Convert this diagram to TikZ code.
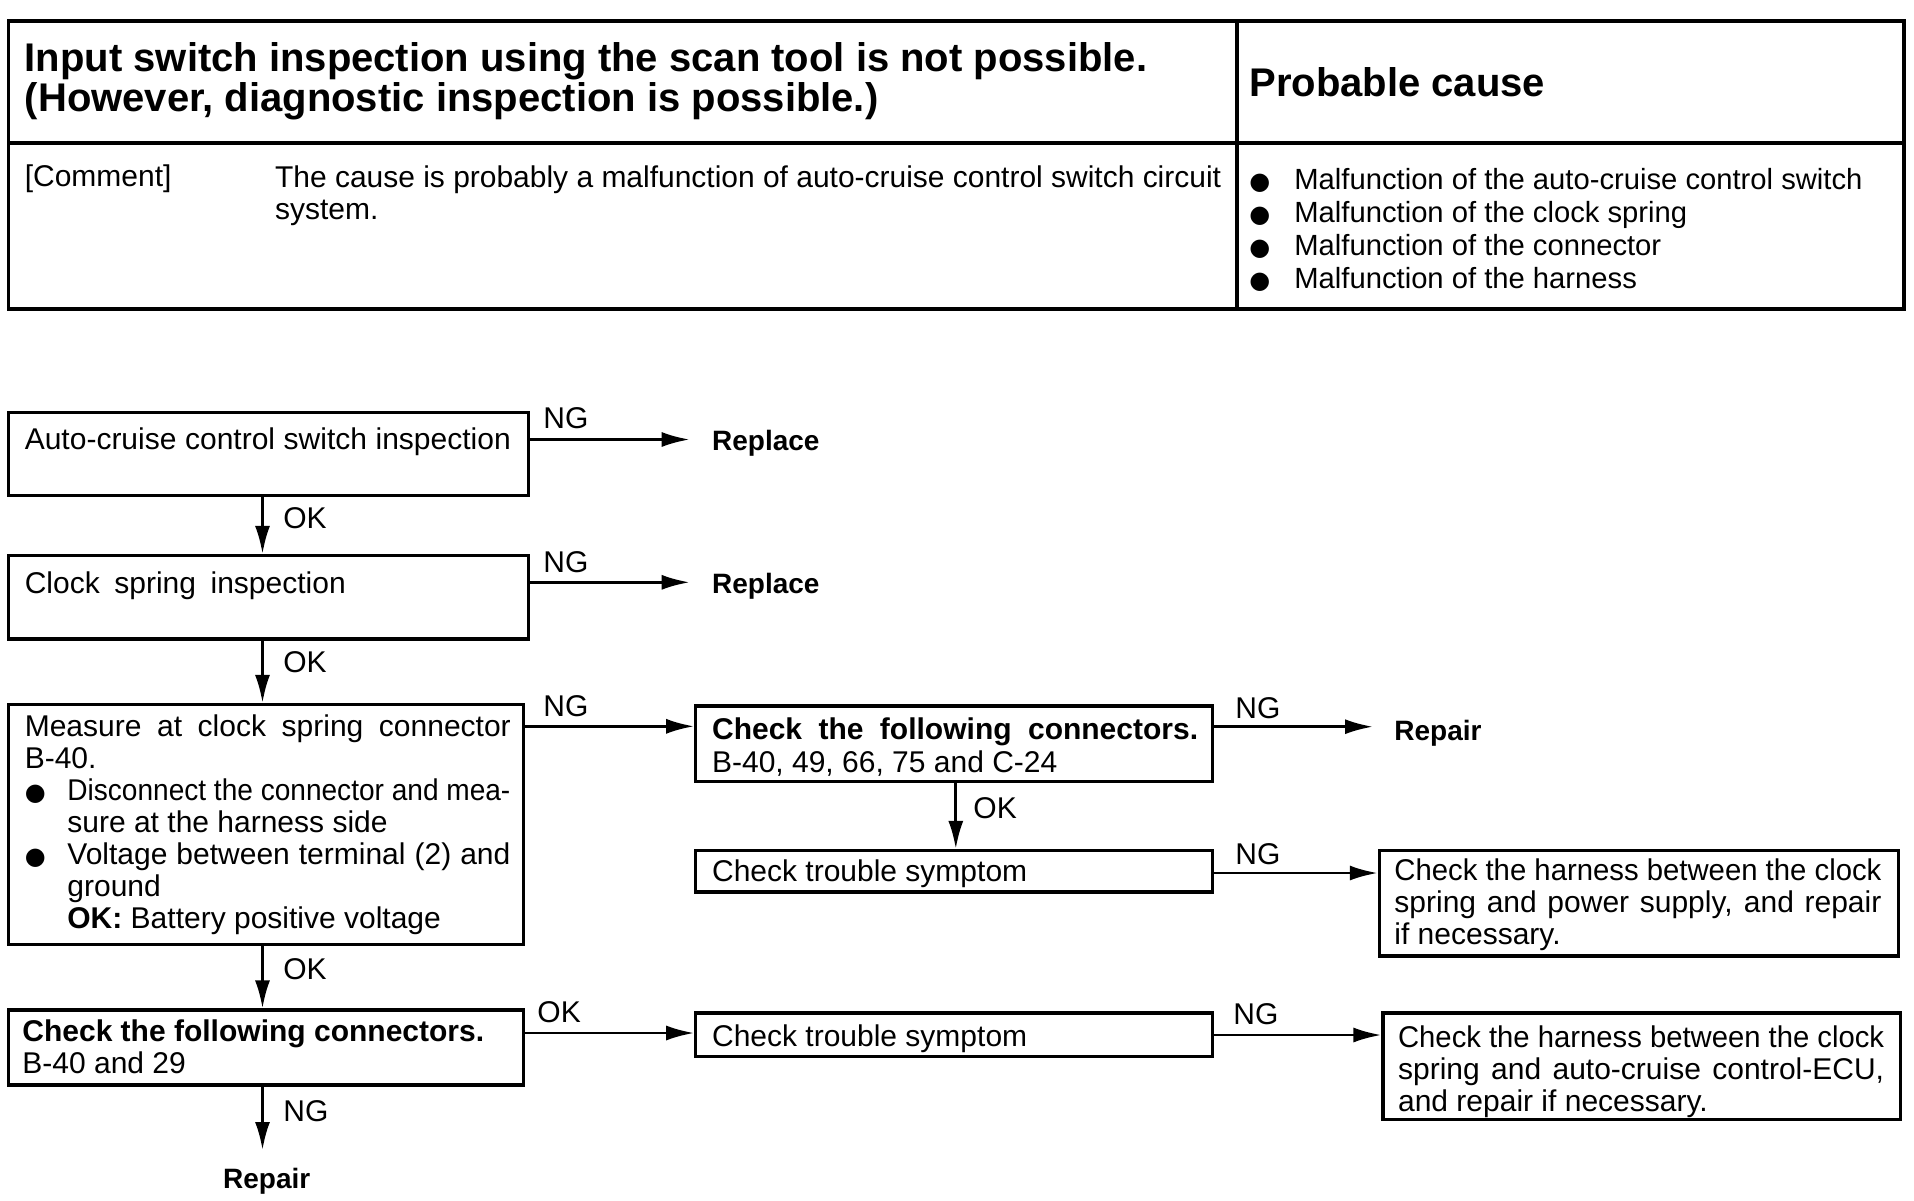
\documentclass[tikz,border=0pt]{standalone}
\usepackage{fontspec}
\setmainfont{Liberation Sans}
\newfontfamily\symfont{DejaVu Sans}
\usepackage{graphicx}
\usetikzlibrary{arrows.meta,fit}
\newlength{\fitlen}
\newcommand{\fitline}[2]{\settowidth{\fitlen}{#2}\ifdim\fitlen>#1\relax\resizebox{#1}{\height}{#2}\else\makebox[#1][s]{#2}\fi}
\newcommand{\bul}{\raisebox{0pt}{\symfont\fontsize{12}{12}\selectfont ●}}
\newcommand{\bodyfont}{\fontsize{15}{16}\selectfont}
\newcommand{\hdrfont}{\fontsize{20}{20}\selectfont\bfseries}
\newcommand{\termfont}{\fontsize{14}{16}\selectfont\bfseries}
\begin{document}
\begin{tikzpicture}[x=0.5pt,y=-0.5pt,
  tbl/.style={line width=1.9pt},
  box/.style={draw, line width=1.6pt, inner sep=0pt},
  flow/.style={-{Latex[length=14pt,width=7.5pt]}, line width=1.4pt},
  txt/.style={inner sep=0pt, anchor=base west, font=\bodyfont},
  lbl/.style={inner sep=0pt, anchor=base west, font=\bodyfont},
  termtxt/.style={inner sep=0pt, anchor=base west, font=\termfont}]
\useasboundingbox (0,0) rectangle (1914,1200);
% ---------- table ----------
\draw[tbl] (8.5,21) rectangle (1904,309);
\draw[tbl] (1237,21) -- (1237,309);
\draw[tbl] (8.5,143) -- (1904,143);
\node[txt, font=\hdrfont] (hdr) at (24.4,71.4) {\parbox[t]{600pt}{Input switch inspection using the scan tool is not possible.\\(However, diagnostic inspection is possible.)}};
\node[txt, font=\hdrfont] (pc) at (1249,96) {Probable cause};
\node[txt] (cmt) at (24.4,186) {[Comment]};
\node[txt] (cmtx) at (274.7,187) {\parbox[t]{473pt}{\fitline{473pt}{The cause is probably a malfunction of auto-cruise control switch circuit}\\system.}};
\node[txt, font=\fontsize{14.6}{16.5}\selectfont] (causes) at (1249,189.4) {\parbox[t]{320pt}{%
\makebox[22.5pt][l]{\bul}Malfunction of the auto-cruise control switch\\
\makebox[22.5pt][l]{\bul}Malfunction of the clock spring\\
\makebox[22.5pt][l]{\bul}Malfunction of the connector\\
\makebox[22.5pt][l]{\bul}Malfunction of the harness}};
% ---------- flow ----------
\coordinate (cx) at (262.5,0);
\coordinate (cxD) at (955.8,0);
% A
\node[box, fit={(8.5,412.6)(528.6,495.6)}] (A) {};
\node[txt] (tA) at (24.4,449.5) {\fitline{243pt}{Auto-cruise control switch inspection}};
\coordinate (rA) at (689.7,439.5);
\draw[flow] (A.east |- rA) -- (rA);
\node[lbl] (ngA) at (543,428.7) {NG};
\node[termtxt] (repA) at (711.7,450.7) {Replace};
% B
\node[box, fit={(8.5,555.5)(528.6,639)}] (B) {};
\draw[flow] (A.south -| cx) -- (B.north -| cx);
\node[lbl] (okA) at (283,528.8) {OK};
\node[txt] (tB) at (24.4,593.3) {\fitline{160.5pt}{Clock spring inspection}};
\coordinate (rB) at (689.7,582.3);
\draw[flow] (B.east |- rB) -- (rB);
\node[lbl] (ngB) at (543,572.7) {NG};
\node[termtxt] (repB) at (711.7,593) {Replace};
% C
\node[box, fit={(8.5,704.5)(523.7,944.5)}] (C) {};
\draw[flow] (B.south -| cx) -- (C.north -| cx);
\node[lbl] (okB) at (283,672.8) {OK};
\node[txt] (tC) at (24.4,736.7) {\parbox[t]{243pt}{%
\fitline{243pt}{Measure at clock spring connector}\\
B-40.\\
\makebox[21.3pt][l]{\bul}\fitline{221.5pt}{Disconnect the connector and mea-}\\
\hspace*{21.3pt}sure at the harness side\\
\makebox[21.3pt][l]{\bul}\fitline{221.5pt}{Voltage between terminal (2) and}\\
\hspace*{21.3pt}ground\\
\hspace*{21.3pt}\textbf{OK:} Battery positive voltage}};
% D
\node[box, fit={(695.8,706)(1212.2,781.5)}] (D) {};
\coordinate (yCD) at (0,726.3);
\draw[flow] (C.east |- yCD) -- (D.west |- yCD);
\node[lbl] (ngC) at (543,716.8) {NG};
\node[txt] (tD) at (711.7,739) {\parbox[t]{243pt}{\fitline{243pt}{\bfseries Check the following connectors.}\\[0.5pt]B-40, 49, 66, 75 and C-24}};
\coordinate (rD) at (1373,726.7);
\draw[flow] (D.east |- rD) -- (rD);
\node[lbl] (ngD) at (1235,718) {NG};
\node[termtxt] (repD) at (1394,740) {Repair};
% E
\node[box, fit={(695.8,850.5)(1212.2,892)}] (E) {};
\draw[flow] (D.south -| cxD) -- (E.north -| cxD);
\node[lbl] (okD) at (973,818) {OK};
\node[txt] (tE) at (711.7,881.6) {Check trouble symptom};
% F
\node[box, fit={(1379.4,850.5)(1898.2,956)}] (F) {};
\coordinate (yEF) at (0,873);
\draw[flow] (E.east |- yEF) -- (F.west |- yEF);
\node[lbl] (ngE) at (1235,864.5) {NG};
\node[txt] (tF) at (1394,880) {\parbox[t]{243.5pt}{%
\fitline{243.5pt}{Check the harness between the clock}\\
\fitline{243.5pt}{spring and power supply, and repair}\\
if necessary.}};
% G
\node[box, fit={(8.5,1010)(523.7,1085)}] (G) {};
\draw[flow] (C.south -| cx) -- (G.north -| cx);
\node[lbl] (okC) at (283,979) {OK};
\node[txt] (tG) at (22,1041.5) {\parbox[t]{243pt}{\textbf{Check the following connectors.}\\B-40 and 29}};
% H
\node[box, fit={(695.8,1013)(1212.2,1056.5)}] (H) {};
\coordinate (yGH) at (0,1033);
\draw[flow] (G.east |- yGH) -- (H.west |- yGH);
\node[lbl] (okG) at (537,1022) {OK};
\node[txt] (tH) at (711.7,1046) {Check trouble symptom};
% I
\node[box, fit={(1383,1013)(1900.6,1119.5)}] (I) {};
\coordinate (yHI) at (0,1035);
\draw[flow] (H.east |- yHI) -- (I.west |- yHI);
\node[lbl] (ngH) at (1233,1024) {NG};
\node[txt] (tI) at (1397.7,1047) {\parbox[t]{243pt}{%
\fitline{243pt}{Check the harness between the clock}\\
\fitline{243pt}{spring and auto-cruise control-ECU,}\\
and repair if necessary.}};
% G -> Repair
\coordinate (rG) at (262.5,1150);
\draw[flow] (G.south -| cx) -- (rG);
\node[lbl] (ngG) at (283,1121) {NG};
\node[termtxt, anchor=base] (repG) at (266.7,1188) {Repair};
\end{tikzpicture}
\end{document}
